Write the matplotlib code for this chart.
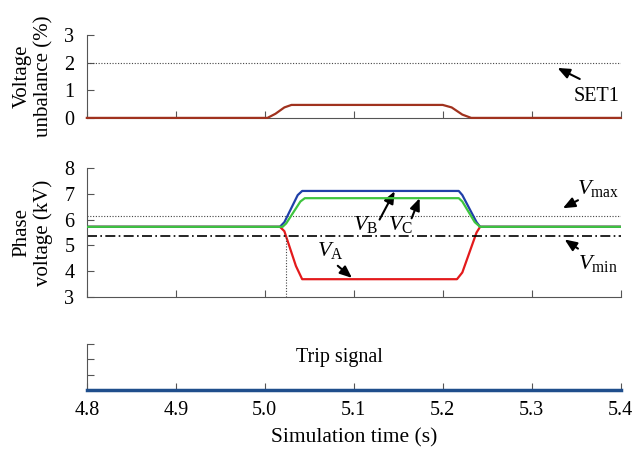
import matplotlib
matplotlib.use("Agg")
import matplotlib.pyplot as plt

plt.rcParams['font.family'] = ['Liberation Serif', 'DejaVu Serif']
plt.rcParams['mathtext.fontset'] = 'custom'
plt.rcParams['mathtext.it'] = 'Liberation Serif:italic'
plt.rcParams['mathtext.rm'] = 'Liberation Serif'

# voltage unbalance (%)
t_unb = [4.8, 5.003, 5.012, 5.022, 5.03, 5.2, 5.21, 5.222, 5.232, 5.4]
unb = [0.0, 0.0, 0.15, 0.38, 0.47, 0.47, 0.38, 0.12, 0.0, 0.0]
set1 = 2.0

# phase voltages (kV)
t_a = [4.8, 5.017, 5.022, 5.035, 5.042, 5.216, 5.222, 5.238, 5.242, 5.4]
v_a = [5.72, 5.72, 5.55, 4.2, 3.69, 3.69, 3.95, 5.5, 5.72, 5.72]
t_b = [4.8, 5.017, 5.022, 5.037, 5.042, 5.218, 5.222, 5.238, 5.242, 5.4]
v_b = [5.72, 5.72, 5.9, 6.95, 7.11, 7.11, 6.95, 5.9, 5.72, 5.72]
t_c = [4.8, 5.02, 5.024, 5.04, 5.045, 5.218, 5.222, 5.236, 5.242, 5.4]
v_c = [5.72, 5.72, 5.85, 6.7, 6.83, 6.83, 6.7, 5.9, 5.72, 5.72]
v_max = 6.15
v_min = 5.38
t_cross = 5.0236

# trip signal
t_trip = [4.8, 5.4]
trip = [0, 0]

xticks = [4.8, 4.9, 5.0, 5.1, 5.2, 5.3, 5.4]
xlabels = ["4.8", "4.9", "5.0", "5.1", "5.2", "5.3", "5.4"]

fig = plt.figure(figsize=(6.34, 4.5), dpi=100)
ax1 = fig.add_axes([0.137, 0.738, 0.842, 0.184])
ax2 = fig.add_axes([0.137, 0.340, 0.842, 0.2867])
ax3 = fig.add_axes([0.137, 0.1333, 0.842, 0.102])

fs = 14.5
for ax in (ax1, ax2, ax3):
    ax.set_xlim(4.8, 5.4)
    ax.set_xticks(xticks)
    for s in ("top", "right"):
        ax.spines[s].set_visible(False)
    ax.spines["left"].set_color("#555555")
    ax.spines["bottom"].set_color("#555555")
    ax.tick_params(direction="in", length=5, color="#555555", labelsize=fs, width=0.8)
    ax.tick_params(axis="y", pad=9)

ax1.set_xticklabels([])
ax2.set_xticklabels([])

arr = dict(arrowstyle="-|>,head_length=0.6,head_width=0.25", color="black", lw=1.5,
           mutation_scale=12, shrinkA=0, shrinkB=0)

# top panel
ax1.plot(t_unb, unb, color="#a0321e", lw=1.6, clip_on=False, zorder=3)
ax1.axhline(set1, color="#444444", ls=(0, (1, 1.5)), lw=0.8)
ax1.set_ylim(0, 3)
ax1.set_yticks([0, 1, 2, 3])
ax1.set_ylabel("Voltage\nunbalance (%)", fontsize=15, linespacing=1.15, labelpad=8)
ax1.text(5.373, 0.76, "SET1", fontsize=fs, ha="center", va="center")
ax1.annotate("", xy=(5.329, 1.81), xytext=(5.354, 1.41), arrowprops=arr)

# middle panel
ax2.plot(t_b, v_b, color="#1f3fa8", lw=1.6, zorder=3)
ax2.plot(t_c, v_c, color="#3ec43e", lw=1.6, zorder=4)
ax2.plot(t_a, v_a, color="#e31a1c", lw=1.6, zorder=2)
ax2.axhline(v_max, color="#444444", ls=(0, (1, 1.5)), lw=0.8)
ax2.axhline(v_min, color="black", ls=(0, (6, 2, 1, 2)), lw=1.2)
ax2.plot([t_cross, t_cross], [3, v_min], color="#444444", ls=(0, (1, 1.5)), lw=0.8)
ax2.set_ylim(3, 8)
ax2.set_yticks([3, 4, 5, 6, 7, 8])
ax2.set_ylabel("Phase\nvoltage (kV)", fontsize=15, linespacing=1.15, labelpad=8)

lfs = 16
ax2.text(5.074, 4.8, r"$V_{\mathrm{A}}$", fontsize=lfs, ha="center", va="center")
ax2.annotate("", xy=(5.098, 3.74), xytext=(5.082, 4.21), arrowprops=arr)
ax2.text(5.113, 5.8, r"$V_{\mathrm{B}}$", fontsize=lfs, ha="center", va="center")
ax2.annotate("", xy=(5.146, 7.1), xytext=(5.129, 6.0), arrowprops=arr)
ax2.text(5.153, 5.8, r"$V_{\mathrm{C}}$", fontsize=lfs, ha="center", va="center")
ax2.annotate("", xy=(5.174, 6.83), xytext=(5.165, 6.05), arrowprops=arr)
ax2.text(5.375, 7.22, r"$V_{\mathrm{max}}$", fontsize=lfs, ha="center", va="center")
ax2.annotate("", xy=(5.335, 6.44), xytext=(5.352, 6.75), arrowprops=arr)
ax2.text(5.374, 4.3, r"$V_{\mathrm{min}}$", fontsize=lfs, ha="center", va="center")
ax2.annotate("", xy=(5.337, 5.23), xytext=(5.352, 4.875), arrowprops=arr)

# bottom panel
ax3.plot(t_trip, trip, color="#1f4e8c", lw=2.5, clip_on=False, zorder=3)
ax3.set_ylim(0, 3)
ax3.set_yticks([1, 2, 3])
ax3.set_yticklabels([])
ax3.spines["bottom"].set_visible(False)
ax3.set_xticklabels(xlabels)
ax3.tick_params(axis="x", pad=8)
ax3.text(5.084, 2.15, "Trip signal", fontsize=fs, ha="center", va="center")
ax3.set_xlabel("Simulation time (s)", fontsize=15.5, labelpad=6)

fig.savefig("out.png", dpi=100)
